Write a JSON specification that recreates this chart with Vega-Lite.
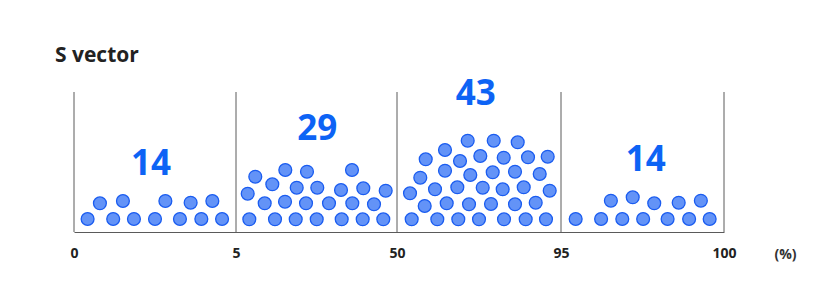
{
  "$schema": "https://vega.github.io/schema/vega-lite/v6.json",
  "width": 650,
  "height": 140,
  "autosize": {"type": "none"},
  "padding": {"left": 74, "top": 92, "right": 93, "bottom": 51},
  "background": "white",
  "title": {
    "text": "S vector",
    "anchor": "start",
    "frame": "group",
    "dx": -19,
    "offset": 11,
    "font": "Open Sans",
    "fontSize": 21,
    "fontWeight": "bold",
    "color": "#222222"
  },
  "config": {"view": {"stroke": null}},
  "datasets": {
    "dots": [
      {"pct": 0.42, "h": 13}, {"pct": 1.21, "h": 13}, {"pct": 1.85, "h": 13}, {"pct": 2.5, "h": 13}, {"pct": 3.27, "h": 13}, {"pct": 3.93, "h": 13}, {"pct": 4.57, "h": 13},
      {"pct": 0.8, "h": 28.7}, {"pct": 1.51, "h": 31}, {"pct": 2.82, "h": 31}, {"pct": 3.6, "h": 29.3}, {"pct": 4.27, "h": 31},

      {"pct": 8.72, "h": 12.7}, {"pct": 15.9, "h": 12.7}, {"pct": 21.69, "h": 12.7}, {"pct": 27.56, "h": 12.7}, {"pct": 34.54, "h": 12.7}, {"pct": 40.41, "h": 12.7}, {"pct": 46.17, "h": 12.7},
      {"pct": 13.02, "h": 28.7}, {"pct": 18.7, "h": 30.3}, {"pct": 24.57, "h": 28.7}, {"pct": 30.99, "h": 28.7}, {"pct": 37.51, "h": 28.7}, {"pct": 43.57, "h": 27.7},
      {"pct": 8.27, "h": 38.3}, {"pct": 15.15, "h": 47.7}, {"pct": 21.97, "h": 44.3}, {"pct": 27.72, "h": 44.3}, {"pct": 34.35, "h": 42}, {"pct": 40.58, "h": 43.7}, {"pct": 46.84, "h": 41.3},
      {"pct": 10.39, "h": 55.3}, {"pct": 18.78, "h": 62}, {"pct": 24.84, "h": 60.3}, {"pct": 37.42, "h": 62},

      {"pct": 54.03, "h": 12.7}, {"pct": 61.06, "h": 12.7}, {"pct": 66.82, "h": 12.7}, {"pct": 72.5, "h": 12.7}, {"pct": 79.36, "h": 12.7}, {"pct": 85.31, "h": 12.7}, {"pct": 90.88, "h": 12.7},
      {"pct": 57.6, "h": 26}, {"pct": 63.64, "h": 28.7}, {"pct": 69.76, "h": 27.7}, {"pct": 75.79, "h": 28}, {"pct": 82.38, "h": 27.7}, {"pct": 88.06, "h": 29.3},
      {"pct": 53.57, "h": 38.7}, {"pct": 60.43, "h": 42.7}, {"pct": 66.55, "h": 44.7}, {"pct": 73.52, "h": 44.3}, {"pct": 79.0, "h": 42.7}, {"pct": 84.77, "h": 44.7}, {"pct": 91.9, "h": 41.3},
      {"pct": 56.39, "h": 54.3}, {"pct": 63.17, "h": 61.3}, {"pct": 70.11, "h": 57}, {"pct": 76.26, "h": 59.7}, {"pct": 82.38, "h": 60.3}, {"pct": 89.16, "h": 58},
      {"pct": 57.88, "h": 72.7}, {"pct": 67.29, "h": 71}, {"pct": 72.86, "h": 76}, {"pct": 79.28, "h": 74.3}, {"pct": 85.95, "h": 74.7}, {"pct": 91.35, "h": 75.3},
      {"pct": 63.17, "h": 82}, {"pct": 69.4, "h": 91.3}, {"pct": 76.54, "h": 91.3}, {"pct": 83.12, "h": 89.7},

      {"pct": 95.45, "h": 13}, {"pct": 96.23, "h": 13}, {"pct": 96.88, "h": 13}, {"pct": 97.52, "h": 13}, {"pct": 98.27, "h": 13}, {"pct": 98.93, "h": 13}, {"pct": 99.56, "h": 13},
      {"pct": 96.53, "h": 31.3}, {"pct": 97.2, "h": 34.7}, {"pct": 97.86, "h": 28.7}, {"pct": 98.61, "h": 29.3}, {"pct": 99.29, "h": 31.3}
    ],
    "counts": [
      {"pct": 2.38, "h": 68, "n": 14},
      {"pct": 27.72, "h": 102.7, "n": 29},
      {"pct": 71.6, "h": 138, "n": 43},
      {"pct": 97.6, "h": 72, "n": 14}
    ],
    "bounds": [
      {"b": 0}, {"b": 5}, {"b": 50}, {"b": 95}, {"b": 100}
    ]
  },
  "layer": [
    {
      "data": {"name": "bounds"},
      "mark": {"type": "rule", "color": "#5a5a5a", "strokeWidth": 1},
      "encoding": {
        "x": {
          "field": "b",
          "type": "quantitative",
          "scale": {"domain": [0, 5, 50, 95, 100], "range": [0, 162, 323, 487, 650], "nice": false, "zero": false},
          "axis": {
            "values": [0, 5, 50, 95, 100],
            "ticks": false,
            "grid": false,
            "domainColor": "#5a5a5a",
            "domainWidth": 1,
            "labelFont": "Open Sans",
            "labelFontSize": 14,
            "labelFontWeight": "bold",
            "labelColor": "#222222",
            "labelPadding": 14,
            "labelFlush": false,
            "labelOverlap": false,
            "title": "(%)",
            "titleFont": "Open Sans",
            "titleFontSize": 14,
            "titleFontWeight": "bold",
            "titleColor": "#333333",
            "titleX": 711,
            "titleY": 15,
            "titleAlign": "center",
            "titleBaseline": "top"
          }
        }
      }
    },
    {
      "data": {"name": "dots"},
      "mark": {"type": "circle", "size": 165, "opacity": 1, "fill": "#6393f7", "stroke": "#1a5cf0", "strokeWidth": 1.3},
      "encoding": {
        "x": {"field": "pct", "type": "quantitative"},
        "y": {"field": "h", "type": "quantitative", "scale": {"domain": [0, 140], "nice": false}, "axis": null}
      }
    },
    {
      "data": {"name": "counts"},
      "mark": {"type": "text", "font": "Open Sans", "fontSize": 35, "fontWeight": "bold", "color": "#0d63f5", "baseline": "middle", "align": "center"},
      "encoding": {
        "x": {"field": "pct", "type": "quantitative"},
        "y": {"field": "h", "type": "quantitative"},
        "text": {"field": "n", "type": "quantitative"}
      }
    }
  ]
}
